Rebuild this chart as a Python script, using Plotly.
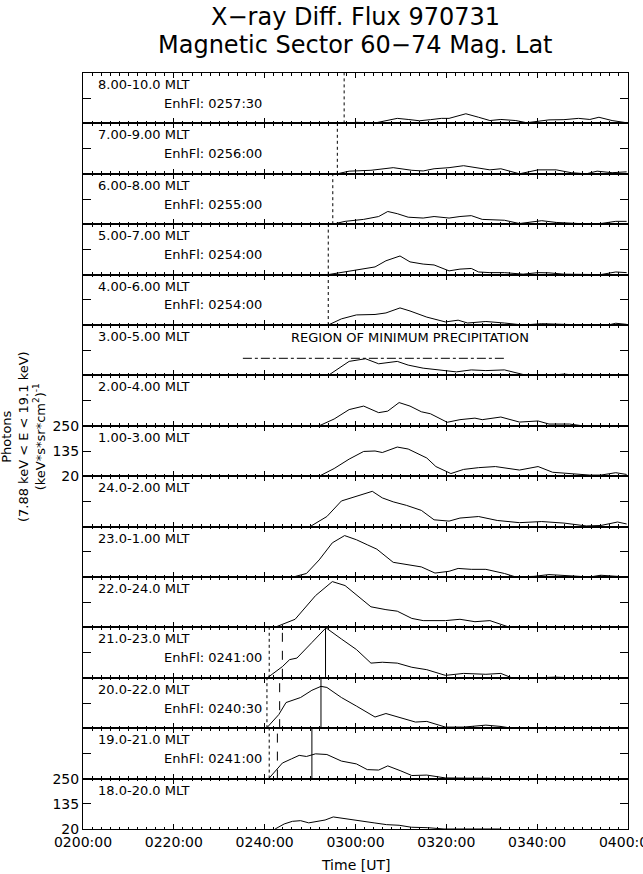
import plotly.graph_objects as go
from plotly.subplots import make_subplots

# ---------------- data ----------------
mlt_labels = ["8.00-10.0 MLT", "7.00-9.00 MLT", "6.00-8.00 MLT", "5.00-7.00 MLT",
              "4.00-6.00 MLT", "3.00-5.00 MLT", "2.00-4.00 MLT", "1.00-3.00 MLT",
              "24.0-2.00 MLT", "23.0-1.00 MLT", "22.0-24.0 MLT", "21.0-23.0 MLT",
              "20.0-22.0 MLT", "19.0-21.0 MLT", "18.0-20.0 MLT"]

# time in minutes after 0200:00 UT, flux in photons/(keV*s*sr*cm2)
t_08 = [57.5, 60.2, 64.3, 66.7, 69.2, 71.6, 74.1, 76.5, 78.9, 80.6, 84.3, 87.1, 89.6, 92.0,
        95.3, 97.7, 100.2, 102.6, 105.9, 109.1, 111.6, 113.6, 116.5, 119.7]
v_08 = [20, 25, 22, 32, 43, 38, 32, 37, 43, 43, 64, 48, 33, 38, 33, 23, 28, 36, 37, 43, 38, 48, 33, 23]

t_07 = [56.0, 58.6, 63.4, 68.3, 72.4, 74.9, 77.3, 80.6, 83.8, 87.1, 89.6, 92.0, 96.1, 100.2,
        104.2, 107.5, 110.8, 113.2, 116.5, 119.7]
v_07 = [20, 32, 36, 48, 36, 33, 43, 48, 57, 48, 38, 43, 20, 38, 38, 25, 20, 32, 25, 29]

t_06 = [55.0, 57.7, 61.8, 65.1, 67.1, 69.2, 71.6, 74.9, 77.3, 80.6, 83.0, 85.5, 87.9, 92.8,
        96.1, 101.0, 104.2, 109.1, 114.0, 117.3, 119.7]
v_06 = [20, 33, 42, 55, 78, 68, 52, 48, 55, 48, 55, 59, 42, 38, 23, 36, 28, 23, 23, 33, 33]

t_05 = [54.0, 57.7, 61.8, 64.3, 66.7, 69.8, 72.0, 74.9, 77.3, 80.6, 83.0, 85.5, 87.1, 89.6,
        92.8, 96.9, 100.2, 102.6, 105.9, 110.8, 114.0, 117.3, 119.7]
v_05 = [20, 32, 45, 55, 83, 105, 78, 68, 64, 37, 45, 48, 32, 29, 29, 22, 29, 28, 22, 20, 20, 32, 29]

t_04 = [54.0, 56.9, 60.2, 64.3, 66.7, 69.8, 72.0, 75.7, 79.8, 82.6, 84.7, 88.7, 92.8, 96.9,
        101.0, 105.1, 110.8, 115.6, 117.3, 119.7]
v_04 = [20, 48, 66, 68, 75, 98, 84, 56, 34, 42, 29, 36, 29, 20, 26, 23, 20, 20, 28, 23]

t_03 = [54.0, 58.6, 62.2, 65.1, 69.2, 71.6, 74.9, 78.9, 82.2, 85.5, 88.7, 92.8, 97.7, 102.6,
        105.9, 109.1, 114.0, 116.5, 119.7]
v_03 = [20, 84, 96, 73, 84, 67, 53, 45, 36, 45, 42, 45, 20, 20, 26, 20, 20, 23, 20]

t_02 = [52.0, 55.3, 58.6, 61.8, 65.1, 67.1, 69.6, 72.0, 74.5, 76.5, 80.2, 83.0, 86.3, 87.9,
        92.0, 96.1, 100.2, 102.6, 107.1, 110.0, 114.0, 119.7]
v_02 = [20, 51, 94, 110, 80, 87, 126, 110, 84, 75, 36, 48, 55, 48, 60, 37, 42, 28, 28, 20, 20, 20]

t_01 = [52.0, 55.3, 58.6, 61.8, 64.3, 65.9, 69.2, 71.6, 75.7, 77.7, 81.0, 83.8, 87.1, 90.8,
        96.1, 100.2, 103.4, 107.5, 111.6, 114.0, 117.3, 119.7]
v_01 = [20, 55, 98, 133, 135, 128, 153, 144, 103, 64, 32, 51, 59, 64, 48, 64, 38, 32, 25, 25, 36, 28]

t_24 = [50.0, 53.7, 56.9, 60.2, 63.7, 65.9, 68.3, 71.2, 74.5, 77.3, 80.6, 83.0, 87.1, 91.2,
        96.1, 101.0, 105.9, 110.8, 114.0, 117.7, 119.7]
v_24 = [20, 66, 137, 160, 181, 151, 133, 117, 94, 51, 45, 59, 66, 48, 38, 43, 36, 23, 25, 41, 32]

t_23 = [46.3, 49.2, 52.0, 54.9, 57.6, 60.2, 62.6, 64.7, 68.3, 71.6, 74.5, 77.5, 80.6, 82.6,
        85.5, 88.7, 92.8, 95.3, 99.3, 102.6, 105.9, 111.6, 114.0, 117.3, 119.7]
v_23 = [20, 36, 98, 176, 209, 190, 167, 147, 87, 75, 66, 38, 46, 59, 55, 55, 36, 20, 23, 31, 26,
        20, 28, 23, 20]

t_22 = [42.2, 44.7, 46.7, 51.2, 54.9, 57.7, 63.4, 66.7, 69.2, 72.4, 74.9, 79.8, 83.0, 86.3,
        89.6, 94.0, 99.3, 102.6, 105.9]
v_22 = [20, 42, 57, 165, 229, 211, 114, 101, 94, 61, 51, 51, 57, 46, 51, 20, 20, 23, 20]

t_21 = [40.6, 43.9, 45.5, 47.1, 50.4, 53.5, 56.9, 60.2, 63.4, 65.9, 69.2, 72.4, 75.7, 79.8,
        83.8, 88.7, 92.0, 94.4, 100.0, 104.0, 108.0]
v_21 = [20, 71, 103, 110, 181, 248, 197, 149, 87, 91, 87, 68, 57, 31, 40, 36, 40, 20, 20, 23, 20]

t_20 = [40.4, 43.1, 44.7, 47.9, 50.4, 52.4, 53.7, 56.9, 60.2, 64.3, 66.7, 70.0, 73.2, 75.7,
        79.8, 83.8, 88.7, 92.0, 94.4, 96.9]
v_20 = [20, 82, 137, 160, 193, 211, 206, 160, 121, 71, 87, 66, 48, 51, 25, 25, 34, 28, 20, 20]

t_19 = [40.9, 43.9, 45.9, 47.6, 49.2, 51.2, 53.7, 56.9, 60.2, 62.6, 65.1, 67.1, 70.0, 72.4,
        75.7, 79.8, 84.7, 89.6]
v_19 = [20, 91, 110, 126, 121, 133, 130, 100, 87, 61, 59, 78, 55, 34, 36, 23, 22, 22]

t_18 = [42.3, 44.3, 46.1, 47.9, 49.7, 51.5, 53.3, 55.1, 57.8, 61.4, 64.1, 66.8, 69.6, 72.3,
        75.9, 79.5, 86.7, 89.4, 92.1]
v_18 = [20, 43, 55, 58, 48, 55, 61, 75, 66, 54, 48, 40, 37, 28, 26, 20, 20, 22, 20]

series_t = [t_08, t_07, t_06, t_05, t_04, t_03, t_02, t_01, t_24, t_23, t_22, t_21, t_20, t_19, t_18]
series_v = [v_08, v_07, v_06, v_05, v_04, v_03, v_02, v_01, v_24, v_23, v_22, v_21, v_20, v_19, v_18]

# enhancement-onset markers (panel index, time in minutes after 0200)
enh_panels = [0, 1, 2, 3, 4, 11, 12, 13]
enh_times = [57.5, 56.0, 55.0, 54.0, 54.0, 41.0, 40.5, 41.0]
enh_labels = ["EnhFl: 0257:30", "EnhFl: 0256:00", "EnhFl: 0255:00", "EnhFl: 0254:00",
              "EnhFl: 0254:00", "EnhFl: 0241:00", "EnhFl: 0240:30", "EnhFl: 0241:00"]
dash_panels = [11, 12, 13]
dash_times = [43.9, 43.3, 42.8]
peak_times = [53.4, 52.4, 50.4]

minprec_panel = 5
minprec_text = "REGION OF MINIMUM PRECIPITATION"
minprec_start, minprec_end, minprec_level = 35.2, 93.1, 98

xtick_vals = [0, 20, 40, 60, 80, 100, 120]
xtick_text = ["0200:00", "0220:00", "0240:00", "0300:00", "0320:00", "0340:00", "0400:00"]
ytick_vals = [20, 135, 250]
ytick_text = ["20", "135", "250"]
ylabel_panels = [7, 14]

# ---------------- figure ----------------
N = len(mlt_labels)
FONT = "DejaVu Sans"
fig = make_subplots(rows=N, cols=1, shared_xaxes=True, vertical_spacing=0)

for i in range(N):
    fig.add_trace(go.Scatter(x=series_t[i], y=series_v[i], mode="lines",
                             line=dict(color="black", width=1), showlegend=False,
                             hoverinfo="skip"), row=i + 1, col=1)

def ax(i):
    return "" if i == 0 else str(i + 1)

for i in range(N):
    fig.update_xaxes(row=i + 1, col=1, range=[0, 120], showline=True, linecolor="black",
                     linewidth=1, mirror="ticks", ticks="inside", ticklen=5, tickcolor="black",
                     tickmode="array", tickvals=xtick_vals, ticktext=xtick_text,
                     showticklabels=(i == N - 1), showgrid=False, zeroline=False,
                     ticklabeloverflow="allow", automargin=False,
                     tickfont=dict(family=FONT, size=14, color="black"),
                     minor=dict(dtick=2, tick0=0, ticks="inside", ticklen=2.5,
                                tickcolor="black", showgrid=False))
    fig.update_yaxes(row=i + 1, col=1, range=[20, 250], showline=True, linecolor="black",
                     linewidth=1, mirror="ticks", ticks="inside", ticklen=8, tickcolor="black",
                     tickmode="array", tickvals=ytick_vals, ticktext=ytick_text,
                     showticklabels=(i in ylabel_panels), showgrid=False, zeroline=False,
                     automargin=False,
                     tickfont=dict(family=FONT, size=14, color="black"))

ann = []
shapes = []
for i in range(N):
    ann.append(dict(xref="x%s domain" % ax(i), yref="y%s domain" % ax(i), x=0.024, y=0.77,
                    xanchor="left", yanchor="middle", text=mlt_labels[i], showarrow=False,
                    font=dict(family=FONT, size=13, color="black")))

for p, t, lab in zip(enh_panels, enh_times, enh_labels):
    ann.append(dict(xref="x%s domain" % ax(p), yref="y%s domain" % ax(p), x=0.145, y=0.40,
                    xanchor="left", yanchor="middle", text=lab, showarrow=False,
                    font=dict(family=FONT, size=13, color="black")))
    shapes.append(dict(type="line", xref="x" + ax(p), yref="y%s domain" % ax(p),
                       x0=t, x1=t, y0=0, y1=1, line=dict(color="black", width=1, dash="dot")))

for p, td, tp in zip(dash_panels, dash_times, peak_times):
    shapes.append(dict(type="line", xref="x" + ax(p), yref="y%s domain" % ax(p),
                       x0=td, x1=td, y0=0, y1=1, line=dict(color="black", width=1, dash="dash")))
    shapes.append(dict(type="line", xref="x" + ax(p), yref="y%s domain" % ax(p),
                       x0=tp, x1=tp, y0=0, y1=1, line=dict(color="black", width=1)))

p = minprec_panel
ann.append(dict(xref="x%s domain" % ax(p), yref="y%s domain" % ax(p), x=0.60, y=0.76,
                xanchor="center", yanchor="middle", text=minprec_text, showarrow=False,
                font=dict(family=FONT, size=13, color="black")))
shapes.append(dict(type="line", xref="x" + ax(p), yref="y" + ax(p),
                   x0=minprec_start, x1=minprec_end, y0=minprec_level, y1=minprec_level,
                   line=dict(color="black", width=1, dash="dashdot")))

# titles
ann.append(dict(xref="paper", yref="paper", x=0.5, y=1.074, xanchor="center", yanchor="middle",
                text="X\u2212ray Diff. Flux 970731", showarrow=False,
                font=dict(family=FONT, size=24, color="black")))
ann.append(dict(xref="paper", yref="paper", x=0.5, y=1.0375, xanchor="center", yanchor="middle",
                text="Magnetic Sector 60\u221274 Mag. Lat", showarrow=False,
                font=dict(family=FONT, size=24, color="black")))
ann.append(dict(xref="paper", yref="paper", x=0.5, y=-0.0476, xanchor="center", yanchor="middle",
                text="Time [UT]", showarrow=False, font=dict(family=FONT, size=14, color="black")))
ann.append(dict(xref="paper", yref="paper", x=-0.11, y=0.5185, xanchor="center", yanchor="middle",
                textangle=-90,
                text="Photons<br>(7.88 keV < E < 19.1 keV)<br>(keV*s*sr*cm<sup>2</sup>)<sup>-1</sup>",
                showarrow=False, font=dict(family=FONT, size=13, color="black")))

fig.update_layout(width=643, height=874, margin=dict(l=83, r=15, t=73, b=45, autoexpand=False),
                  plot_bgcolor="white", paper_bgcolor="white", annotations=ann, shapes=shapes,
                  showlegend=False)

fig.write_html("out.html")
